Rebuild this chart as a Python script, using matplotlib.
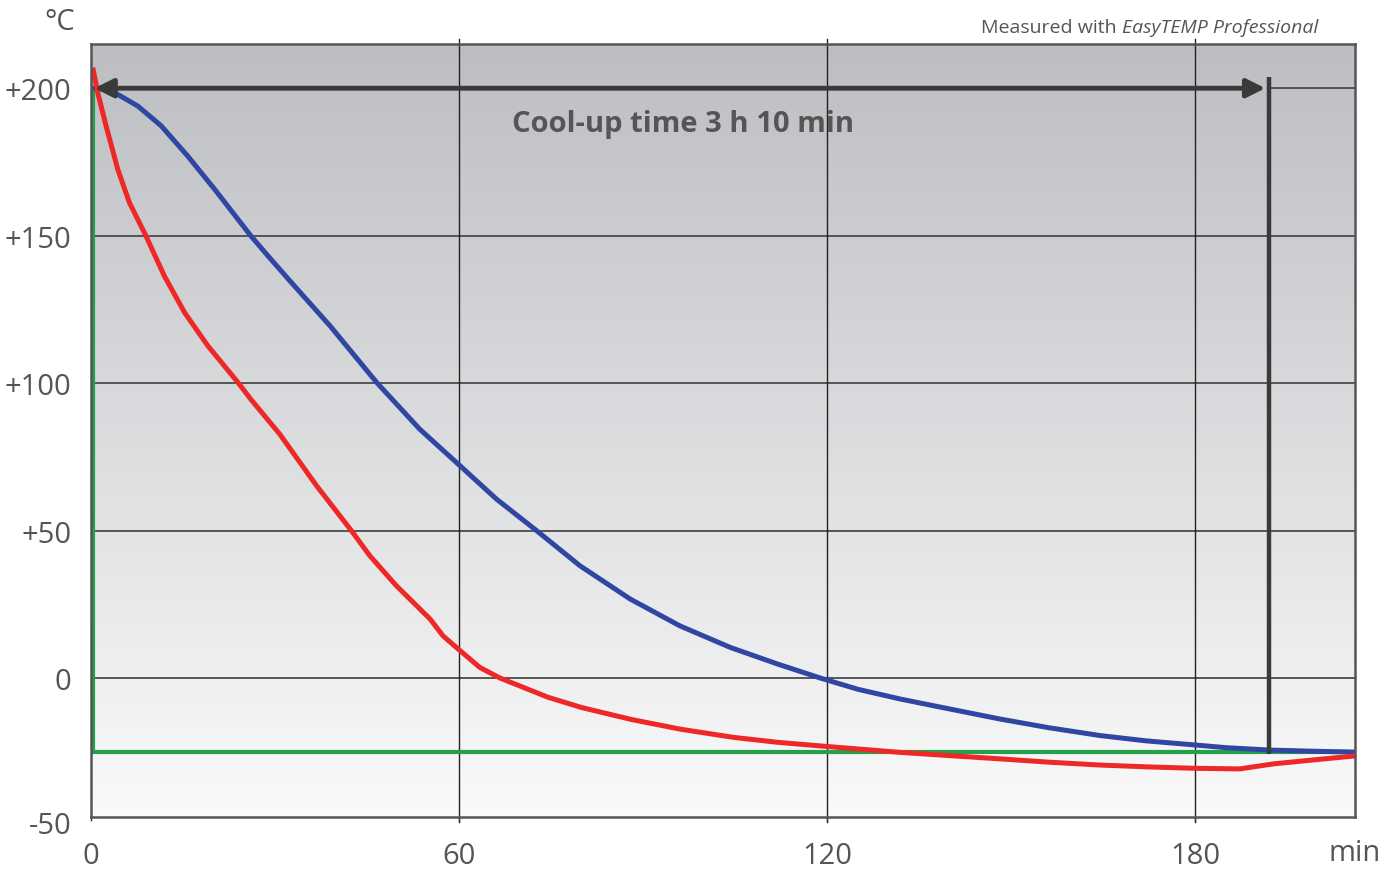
import numpy as np
import matplotlib.pyplot as plt
from matplotlib.colors import LinearSegmentedColormap
from matplotlib.patches import FancyArrowPatch

# time in minutes, temperature in degC
t_red = [0.33, 1.14, 2.5, 4.4, 6.3, 9.0, 12.0, 15.3, 19.1, 24.0, 26.1, 30.8,
         36.8, 42.5, 45.5, 49.8, 55.3, 57.4, 59.9, 63.4, 66.7, 74.5, 80, 88,
         96, 104.7, 112, 120, 131.9, 140, 148.2, 156, 164.5, 172, 180,
         187.2, 192.7, 199, 206]
temp_red = [207, 198.5, 187.2, 172.5, 161.2, 149.9, 136.3, 123.9, 112.6, 100.2,
            94.5, 82.7, 65.2, 49.9, 41.4, 31.3, 20, 14.3, 9.8, 3.6, 0, -6.5,
            -10, -14, -17.3, -20.1, -21.8, -23.2, -25.2, -26.3, -27.4, -28.5,
            -29.5, -30.1, -30.6, -30.8, -29.1, -27.8, -26.4]

t_blue = [0.3, 2, 4.4, 7.7, 11.5, 15.8, 20.2, 26.1, 28.9, 30.8, 32.1, 39.0, 46.6,
          53.6, 59.9, 66.1, 72.7, 79.7, 87.9, 96.0, 104.2, 112, 118.9, 125,
          131.9, 140, 148.2, 156, 164.5, 172, 180, 185, 191.9, 199, 206]
temp_blue = [200, 199.8, 197.9, 193.9, 187.2, 177, 165.7, 149.9, 143.1, 138.6,
             135.5, 119.4, 100.2, 84.4, 72.5, 60.7, 49.9, 38.1, 26.8, 17.7,
             10.4, 4.7, 0, -3.8, -7.1, -10.5, -13.9, -16.8, -19.5, -21.3,
             -22.7, -23.6, -24.4, -24.8, -25.1]

t_green = [0.3, 0.3, 206]
temp_green = [200, -25, -25]

x_ticks = [0, 60, 120, 180]
y_ticks = [0, 50, 100, 150, 200]
y_labels = ['0', '+50', '+100', '+150', '+200']

cool_time = 192   # end of the cool-up arrow
x_lo, x_hi = 0, 206
y_lo, y_hi = -47.1, 215

label_font = ['Liberation Sans Narrow', 'Open Sans', 'DejaVu Sans']
grey = '#555555'

fig = plt.figure(figsize=(13.94, 8.70), dpi=100)
ax = fig.add_axes([0.0651, 0.0598, 0.9069, 0.8885])

# background gradient
cmap = LinearSegmentedColormap.from_list('bg', ['#fafafa', '#bcbec2'])
ax.imshow(np.linspace(0, 1, 256).reshape(-1, 1), extent=[x_lo, x_hi, y_lo, y_hi],
          origin='lower', aspect='auto', cmap=cmap, zorder=0)

for y in [0, 50, 100, 150]:
    ax.axhline(y, color='#4a4a4a', lw=1.3, zorder=1)
ax.plot([cool_time, x_hi], [200, 200], color='#4a4a4a', lw=1.3, zorder=1)
for x in [60, 120, 180]:
    ax.axvline(x, ymin=-0.006, ymax=1.006, color='#222222', lw=1.0,
               zorder=1, clip_on=False)

ax.plot(t_green, temp_green, color='#24a04a', lw=3.0, zorder=2)
ax.plot(t_blue, temp_blue, color='#2f47a3', lw=3.6, zorder=3,
        solid_joinstyle='round', solid_capstyle='butt')
ax.plot(t_red, temp_red, color='#ee2727', lw=3.6, zorder=4,
        solid_joinstyle='round', solid_capstyle='butt')

# cool-up arrow and end marker
arrow = FancyArrowPatch((0.6, 200), (cool_time - 0.6, 200), arrowstyle='<|-|>',
                        mutation_scale=28, color='#3a3a3a', lw=3.5,
                        shrinkA=0, shrinkB=0, zorder=5)
ax.add_patch(arrow)
ax.plot([cool_time, cool_time], [203.8, -25.8], color='#3a3a3a', lw=3.2,
        zorder=5, solid_capstyle='butt')
ax.text(96.5, 188, 'Cool-up time 3 h 10 min', ha='center', va='center',
        fontsize=21, fontweight='bold', color=grey, family=label_font, zorder=6)

ax.set_xlim(x_lo, x_hi)
ax.set_ylim(y_lo, y_hi)
ax.set_xticks(x_ticks)
ax.set_xticklabels([str(x) for x in x_ticks])
ax.set_yticks(y_ticks)
ax.set_yticklabels(y_labels)
ax.tick_params(axis='x', direction='out', length=3, width=1, color='#333333',
               pad=14, labelsize=21, labelcolor=grey)
ax.tick_params(axis='y', length=0, pad=14, labelsize=21, labelcolor=grey)
for lab in ax.get_xticklabels() + ax.get_yticklabels():
    lab.set_family(label_font)

for side in ['left', 'right', 'top', 'bottom']:
    ax.spines[side].set_color('#555555')
    ax.spines[side].set_linewidth(1.8)
    ax.spines[side].set_zorder(7)

ax.text(-3.1, -50, '-50', ha='right', va='center', fontsize=21, color=grey,
        family=label_font, clip_on=False)
ax.text(x_hi, -59, 'min', ha='center', va='center', fontsize=21, color=grey,
        family=label_font, clip_on=False)
fig.text(0.054, 0.974, '°C', ha='right', va='center', fontsize=21, color=grey,
         family=label_font)

# "Measured with EasyTEMP Professional"
ital = fig.text(0.9455, 0.962, 'EasyTEMP Professional', ha='right',
                va='baseline', fontsize=14, style='italic', color=grey,
                family=label_font)
fig.canvas.draw()
bb = ital.get_window_extent().transformed(fig.transFigure.inverted())
fig.text(bb.x0, 0.962, 'Measured with ', ha='right', va='baseline',
         fontsize=14, color=grey, family=label_font)

fig.savefig('out.png', dpi=100)
